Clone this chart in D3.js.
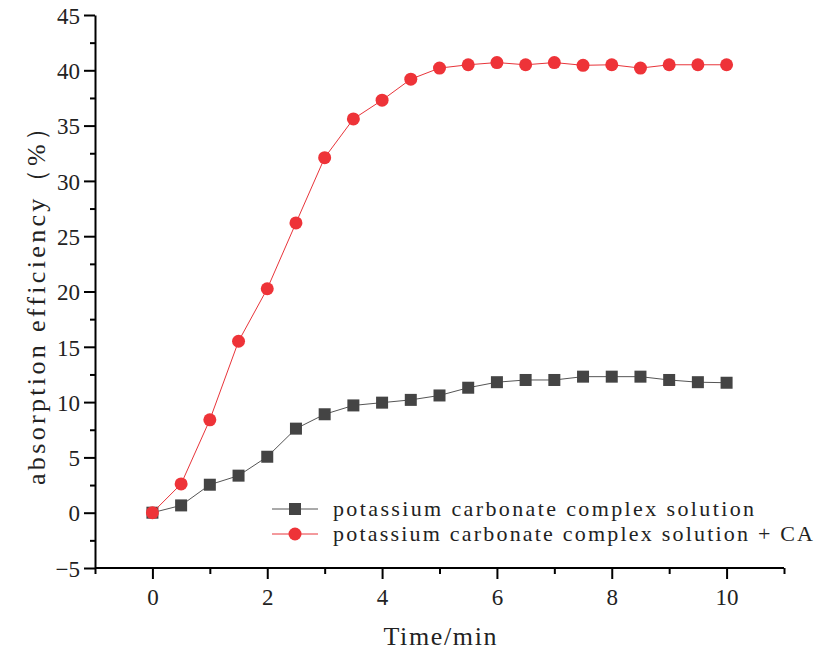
<!DOCTYPE html>
<html>
<head>
<meta charset="utf-8">
<script src="https://cdn.jsdelivr.net/npm/d3@7"></script>
<style>
  body { margin: 0; background: #fff; }
  svg { display: block; }
  .axis path, .axis line { stroke: #000; stroke-width: 2; }
  .axis text { font-family: "Liberation Serif", serif; font-size: 23px; fill: #222; }
</style>
</head>
<body>
<svg id="chart" width="834" height="651"></svg>
<script>
// time points (min)
const times = [0, 0.5, 1, 1.5, 2, 2.5, 3, 3.5, 4, 4.5, 5, 5.5, 6, 6.5, 7, 7.5, 8, 8.5, 9, 9.5, 10];
// potassium carbonate complex solution
const plainValues = [0, 0.66, 2.53, 3.35, 5.06, 7.6, 8.9, 9.7, 9.95, 10.2, 10.6, 11.3, 11.8, 12.0, 12.0, 12.3, 12.3, 12.3, 12.0, 11.8, 11.75];
// potassium carbonate complex solution + CA
const caValues = [0, 2.6, 8.4, 15.5, 20.25, 26.2, 32.1, 35.6, 37.3, 39.2, 40.2, 40.5, 40.7, 40.5, 40.7, 40.45, 40.5, 40.2, 40.5, 40.5, 40.5];

const xMajor = [0, 2, 4, 6, 8, 10];
const xMinor = [-1, 1, 3, 5, 7, 9, 11];
const yMajor = [-5, 0, 5, 10, 15, 20, 25, 30, 35, 40, 45];
const yMinor = [-2.5, 2.5, 7.5, 12.5, 17.5, 22.5, 27.5, 32.5, 37.5, 42.5];

const legendLabels = [
  "potassium carbonate complex solution",
  "potassium carbonate complex solution + CA"
];

const svg = d3.select("#chart");
const x = d3.scaleLinear().domain([-1, 11]).range([95, 784]);
const y = d3.scaleLinear().domain([-5, 45]).range([568, 15]);

// --- axes ---
const xAxis = svg.append("g").attr("class", "axis").attr("transform", "translate(0,568)");
xAxis.call(d3.axisBottom(x).tickValues(xMajor).tickSize(11).tickSizeOuter(0).tickPadding(10));
xAxis.append("g").call(d3.axisBottom(x).tickValues(xMinor).tickSize(6).tickSizeOuter(0).tickFormat(""))
  .select(".domain").remove();
xAxis.select(".domain").attr("d", `M${x(-1)},0H${x(11)}`);

const yAxis = svg.append("g").attr("class", "axis").attr("transform", "translate(95,0)");
yAxis.call(d3.axisLeft(y).tickValues(yMajor).tickSize(11).tickSizeOuter(0).tickPadding(4));
yAxis.append("g").call(d3.axisLeft(y).tickValues(yMinor).tickSize(5).tickSizeOuter(0).tickFormat(""))
  .select(".domain").remove();
yAxis.selectAll("text").attr("dy", "0.36em");

// axis titles
svg.append("text")
  .attr("x", 440).attr("y", 645)
  .attr("text-anchor", "middle")
  .attr("textLength", 113)
  .style("font-family", "Liberation Serif, serif").style("font-size", "26px").style("fill", "#222")
  .text("Time/min");

svg.append("text")
  .attr("transform", "translate(45,300) rotate(-90)")
  .attr("text-anchor", "middle")
  .attr("textLength", 370)
  .style("font-family", "Liberation Serif, serif").style("font-size", "26px").style("fill", "#222")
  .text("absorption efficiency（%）");

// --- series ---
const line = d3.line().x((d) => x(d[0])).y((d) => y(d[1]));
const plainData = times.map((t, i) => [t, plainValues[i]]);
const caData = times.map((t, i) => [t, caValues[i]]);

svg.append("path").datum(plainData)
  .attr("d", line).attr("fill", "none").attr("stroke", "#555").attr("stroke-width", 1);
svg.selectAll(".sq").data(plainData).enter().append("rect")
  .attr("class", "sq")
  .attr("x", (d) => x(d[0]) - 6).attr("y", (d) => y(d[1]) - 6)
  .attr("width", 12).attr("height", 12)
  .attr("fill", "#444");

svg.append("path").datum(caData)
  .attr("d", line).attr("fill", "none").attr("stroke", "#e8343a").attr("stroke-width", 1);
svg.selectAll(".dot").data(caData).enter().append("circle")
  .attr("class", "dot")
  .attr("cx", (d) => x(d[0])).attr("cy", (d) => y(d[1]))
  .attr("r", 6.5)
  .attr("fill", "#ee3338");

// --- legend ---
const legend = svg.append("g");
const rows = [
  { label: legendLabels[0], color: "#555", fill: "#444", shape: "square", len: 421 },
  { label: legendLabels[1], color: "#e8343a", fill: "#ee3338", shape: "circle", len: 480 }
];
rows.forEach((r, i) => {
  const cy = 509 + i * 25;
  legend.append("line")
    .attr("x1", 272).attr("x2", 318).attr("y1", cy).attr("y2", cy)
    .attr("stroke", r.color).attr("stroke-width", 1);
  if (r.shape === "square") {
    legend.append("rect").attr("x", 289).attr("y", cy - 6).attr("width", 12).attr("height", 12).attr("fill", r.fill);
  } else {
    legend.append("circle").attr("cx", 295).attr("cy", cy).attr("r", 6.5).attr("fill", r.fill);
  }
  legend.append("text")
    .attr("x", 333).attr("y", cy + 7)
    .attr("textLength", r.len)
    .style("font-family", "Liberation Serif, serif").style("font-size", "22px").style("fill", "#222")
    .text(r.label);
});
</script>
</body>
</html>
